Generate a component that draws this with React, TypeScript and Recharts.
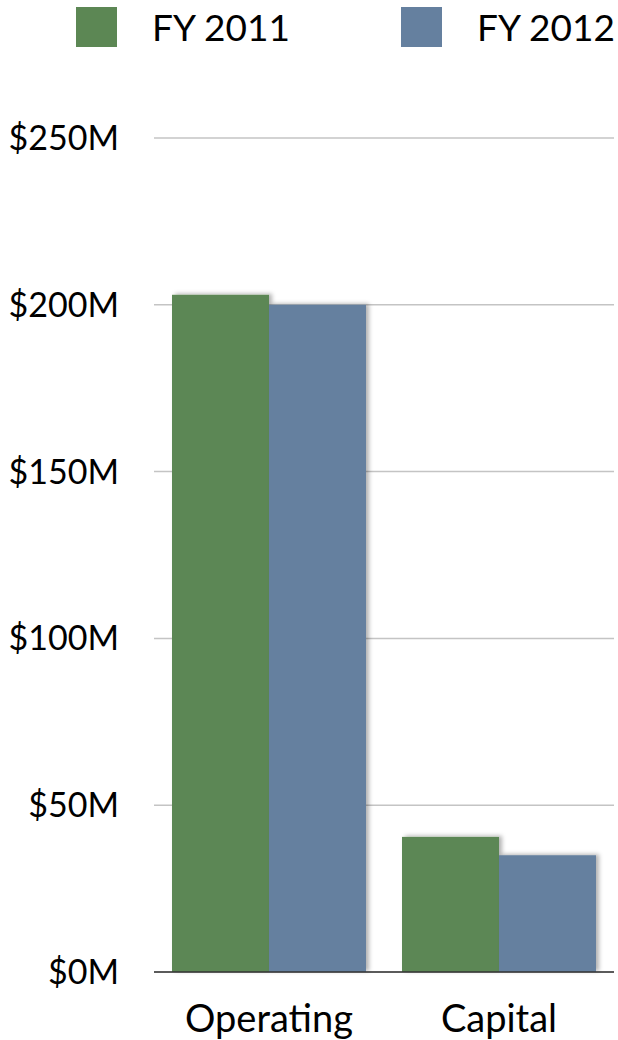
import React from 'react';
import { BarChart, Bar, XAxis, YAxis, CartesianGrid, Legend } from 'recharts';

const categories = ['Operating', 'Capital'];
const fy2011 = [203, 40.5];
const fy2012 = [200, 35];
const yTicks = [0, 50, 100, 150, 200, 250];

const GREEN = '#5c8754';
const BLUE = '#65809f';
const FONT = 'Lato, "Open Sans", sans-serif';

const data = categories.map((name, i) => ({
  name,
  fy2011: fy2011[i],
  fy2012: fy2012[i],
}));

const ShadowBar = (props: any) => {
  const { x, y, width, height, fill } = props;
  if (!height || height <= 0) return null;
  return <rect x={x} y={y} width={width} height={height} fill={fill} filter='url(#barShadow)' />;
};

const LegendBox = (props: any) => {
  const items = props.payload || [];
  return (
    <div style={{ height: 138, width: 618, position: 'relative', fontFamily: FONT }}>
      {items.map((entry: any, i: number) => (
        <div
          key={`leg-${i}`}
          style={{
            position: 'absolute',
            top: 7,
            left: i === 0 ? 76 : 401,
            display: 'flex',
            alignItems: 'center',
            height: 40,
            whiteSpace: 'nowrap',
          }}
        >
          <span style={{ width: 41, height: 40, background: entry.color, display: 'inline-block' }} />
          <span style={{ marginLeft: 35, fontSize: 37, color: '#000', lineHeight: '40px' }}>{entry.value}</span>
        </div>
      ))}
    </div>
  );
};

export default function App() {
  return (
    <div style={{ position: 'absolute', left: 0, top: 0, width: 618, height: 1040, background: '#fff' }}>
      <BarChart
        width={618}
        height={1040}
        data={data}
        margin={{ top: 0, right: 4, bottom: 0, left: 0 }}
        barCategoryGap={18}
        barGap={0}
      >
        <defs>
          <filter id='barShadow' x='-10%' y='-10%' width='130%' height='120%'>
            <feDropShadow dx='3' dy='-1' stdDeviation='2' floodColor='#000' floodOpacity='0.3' />
          </filter>
        </defs>
        <Legend verticalAlign='top' align='left' content={<LegendBox />} />
        <CartesianGrid vertical={false} stroke='#c4c4c4' strokeWidth={1.5} />
        <XAxis
          dataKey='name'
          tickLine={false}
          tickSize={0}
          tickMargin={33}
          height={68}
          axisLine={{ stroke: '#333', strokeWidth: 1.5 }}
          tick={{ fill: '#000', fontSize: 38, fontFamily: FONT }}
        />
        <YAxis
          width={154}
          domain={[0, 250]}
          ticks={yTicks}
          interval={0}
          axisLine={false}
          tickLine={false}
          tickSize={0}
          tickMargin={35}
          tickFormatter={(v: number) => `$${v}M`}
          tick={{ fill: '#000', fontSize: 34, fontFamily: FONT }}
        />
        <Bar dataKey='fy2011' name='FY 2011' fill={GREEN} shape={<ShadowBar />} isAnimationActive={false} />
        <Bar dataKey='fy2012' name='FY 2012' fill={BLUE} shape={<ShadowBar />} isAnimationActive={false} />
      </BarChart>
    </div>
  );
}
